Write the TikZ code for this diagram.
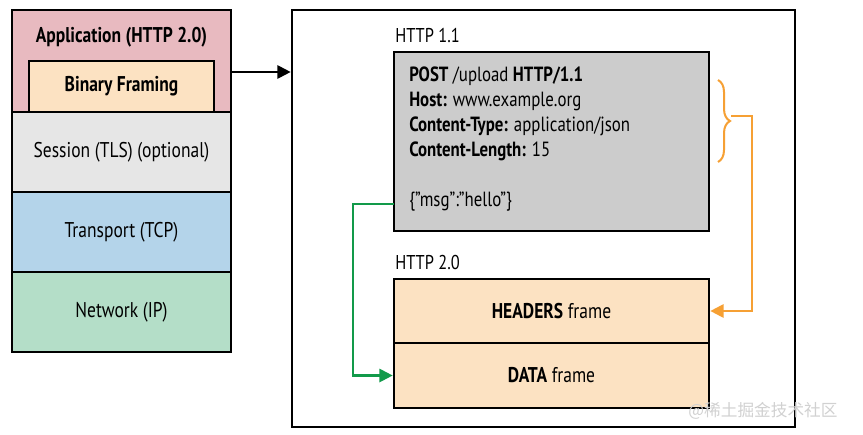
\documentclass[tikz,border=0pt]{standalone}
\usepackage{fontspec}
\setmainfont{PT Sans}[FakeStretch=0.82]
\newfontfamily\cjk{Noto Sans CJK SC}
\usetikzlibrary{fit,arrows.meta,decorations.pathreplacing,calc}
\definecolor{apppink}{RGB}{232,186,192}
\definecolor{framepeach}{RGB}{252,226,194}
\definecolor{sessgray}{RGB}{230,230,230}
\definecolor{tcpblue}{RGB}{180,212,234}
\definecolor{ipgreen}{RGB}{180,222,200}
\definecolor{boxgray}{RGB}{204,204,204}
\definecolor{myorange}{RGB}{246,160,52}
\definecolor{mygreen}{RGB}{18,154,74}
\tikzset{
  layer/.style={draw=black, line width=2pt, inner sep=0pt},
  lbl/.style={font=\fontsize{16}{19}\selectfont, inner sep=0pt},
  conn/.style={line width=1.6pt},
}
\begin{document}
\begin{tikzpicture}[x=0.75pt,y=-0.75pt]
\useasboundingbox[fill=white] (0,0) rectangle (863,435);
% left stack
\node[layer, fill=apppink, fit={(12,10)(231,112)}] (app) {};
\node[lbl, font=\fontsize{16}{19}\selectfont\bfseries] (apptxt) at (121.5,37) {Application (HTTP 2.0)};
\node[layer, fill=framepeach, fit={(29,61)(214,112)}] (bf) {};
\node[lbl, font=\fontsize{16}{19}\selectfont\bfseries] (bftxt) at (bf.center) {Binary Framing};
\node[layer, fill=sessgray, fit={(12,112)(231,192)}] (sess) {};
\node[lbl] (sesstxt) at (sess.center) {Session (TLS) (optional)};
\node[layer, fill=tcpblue, fit={(12,192)(231,272)}] (tcp) {};
\node[lbl] (tcptxt) at (tcp.center) {Transport (TCP)};
\node[layer, fill=ipgreen, fit={(12,272)(231,352)}] (ip) {};
\node[lbl] (iptxt) at (ip.center) {Network (IP)};
% big box
\node[draw=black, line width=2pt, inner sep=0pt, fit={(292,10)(795,427)}] (big) {};
\coordinate (astart) at (231,72);
\draw[conn, -{Triangle[length=10pt,width=10pt]}] (astart) -- (astart -| big.west);
% HTTP 1.1
\node[lbl, anchor=base west, font=\fontsize{15}{18}\selectfont] (h11) at (395,43) {HTTP 1.1};
\node[layer, fill=boxgray, fit={(394,52)(709,231)}] (gray) {};
\node[lbl, anchor=north west, align=left, font=\fontsize{15.4}{18.75}\selectfont] (req) at (409,67)
 {\textbf{POST} /upload \textbf{HTTP/1.1}\\
  \textbf{Host:} www.example.org\\
  \textbf{Content-Type:} application/json\\
  \textbf{Content-Length:} 15\\[18.75pt]
  \{"msg":"hello"\}};
% HTTP 2.0
\node[lbl, anchor=base west, font=\fontsize{15}{18}\selectfont] (h20) at (395,269) {HTTP 2.0};
\node[layer, fill=framepeach, fit={(394,279)(709,343)}] (hdr) {};
\node[lbl] (hdrtxt) at (hdr.center) {\textbf{HEADERS} frame};
\node[layer, fill=framepeach, fit={(394,343)(709,408)}] (data) {};
\node[lbl] (datatxt) at (data.center) {\textbf{DATA} frame};
% orange brace and connector
\coordinate (btop) at (718,80);
\coordinate (bbot) at (718,162);
\draw[myorange, line width=1.5pt, decorate, decoration={brace, amplitude=9pt}] (btop) -- (bbot);
\coordinate (btip) at (731,116);
\draw[conn, myorange, -{Triangle[length=10pt,width=10pt]}] (btip) -- (752,116) |- (hdr.east);
% green connector
\coordinate (gstart) at (394,204);
\draw[conn, mygreen, -{Triangle[length=10pt,width=10pt]}] (gstart) -- (353,204) |- (data.west);
% watermark
\node[inner sep=0pt, text=black!18, font=\cjk\fontsize{12.5}{14}\selectfont] (wm) at (763,411) {@稀土掘金技术社区};
\end{tikzpicture}
\end{document}
